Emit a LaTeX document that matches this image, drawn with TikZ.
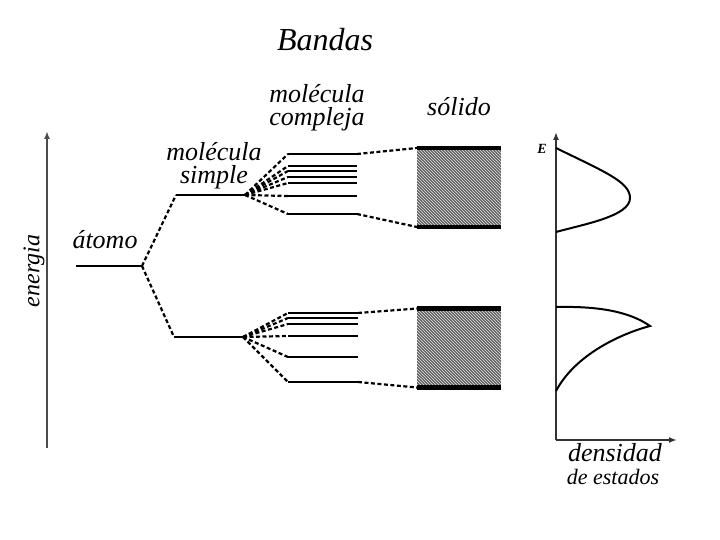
\documentclass[tikz,border=0pt]{standalone}
\usepackage{fontspec}
\setmainfont{Liberation Serif}
\usetikzlibrary{arrows.meta,patterns,positioning}

\begin{document}
\begin{tikzpicture}[x=1pt,y=1pt,
  lvl/.style={line width=2.6pt},
  con/.style={line width=2.2pt,dash pattern=on 4pt off 2.5pt},
  lbl/.style={font=\itshape\fontsize{26}{23}\selectfont,align=center,inner sep=0pt},
  axis/.style={line width=1.6pt,-{Latex[length=8pt,width=6pt]}},
  solido/.style={fill=black!62,minimum width=84,minimum height=79,inner sep=0pt,outer sep=0pt,
    postaction={pattern=north west lines,pattern color=white!80!gray}}]
\useasboundingbox (0,0) rectangle (720,-540);

\node[lbl,font=\itshape\fontsize{32}{32}\selectfont] (tit) at (325,-40) {Bandas};

% eje de energia
\coordinate (e0) at (47,-448);
\coordinate (e1) at (47,-131);
\draw[axis,black!70] (e0) -- (e1);
\node[lbl,rotate=90,font=\itshape\fontsize{24}{24}\selectfont] (en) at (34,-271) {energia};

% atomo
\coordinate (a0) at (76,-266);
\coordinate (a1) at (142,-266);
\draw[lvl] (a0) -- (a1);
\node[lbl] (at) at (105,-240) {átomo};

% molecula simple
\coordinate (s1) at (176,-195); \coordinate (s1r) at (245,-195);
\coordinate (s2) at (174,-337); \coordinate (s2r) at (243,-337);
\draw[lvl] (s1) -- (s1r);
\draw[lvl] (s2) -- (s2r);
\draw[con] (a1) -- (s1);
\draw[con] (a1) -- (s2);
\node[lbl] (ms) at (214,-166) {molécula\\simple};

% molecula compleja
\foreach \y [count=\i] in {154,166,171,177,183,196,214} {
  \coordinate (cu\i) at (288,-\y);
  \coordinate (cur\i) at (357,-\y);
  \draw[line width=2.3pt] (cu\i) -- (cur\i);
  \draw[con] (s1r) -- (cu\i);
}
\foreach \y [count=\i] in {313,318,324,336,357,382} {
  \coordinate (cl\i) at (288,-\y);
  \coordinate (clr\i) at (358,-\y);
  \draw[line width=2.3pt] (cl\i) -- (clr\i);
  \draw[con] (s2r) -- (cl\i);
}
\node[lbl] (mc) at (317,-108) {molécula\\compleja};

% solido
\node[solido] (su) at (459,-187.5) {};
\node[solido] (sl) at (459,-348) {};
\draw[line width=4.5pt] (su.north west) -- (su.north east);
\draw[line width=4.5pt] (su.south west) -- (su.south east);
\draw[line width=4.5pt] (sl.north west) -- (sl.north east);
\draw[line width=4.5pt] (sl.south west) -- (sl.south east);
\draw[con] (cur1) -- (su.north west);
\draw[con] (cur7) -- (su.south west);
\draw[con] (clr1) -- (sl.north west);
\draw[con] (clr6) -- (sl.south west);
\node[lbl] (sol) at (459,-107) {sólido};

% densidad de estados
\coordinate (o) at (556,-440);
\coordinate (ey) at (556,-132);
\coordinate (ex) at (677,-440);
\draw[axis,black!80] (o) -- (ey);
\draw[axis,black!80] (o) -- (ex);
\node[font=\bfseries\itshape\fontsize{14}{14}\selectfont,inner sep=0pt] (E) at (542,-149) {E};
\draw[line width=2pt] (556,-148) .. controls (605,-172) and (630,-182) .. (630,-198)
  .. controls (630,-216) and (585,-224) .. (556,-232);
\draw[line width=2pt] (556,-307) .. controls (600,-306) and (630,-312) .. (650,-326)
  .. controls (620,-334) and (575,-355) .. (556,-391);
\node[lbl] (dens) at (615,-453) {densidad};
\node[lbl,font=\itshape\fontsize{22}{22}\selectfont] (est) at (613,-477) {de estados};
\end{tikzpicture}
\end{document}
